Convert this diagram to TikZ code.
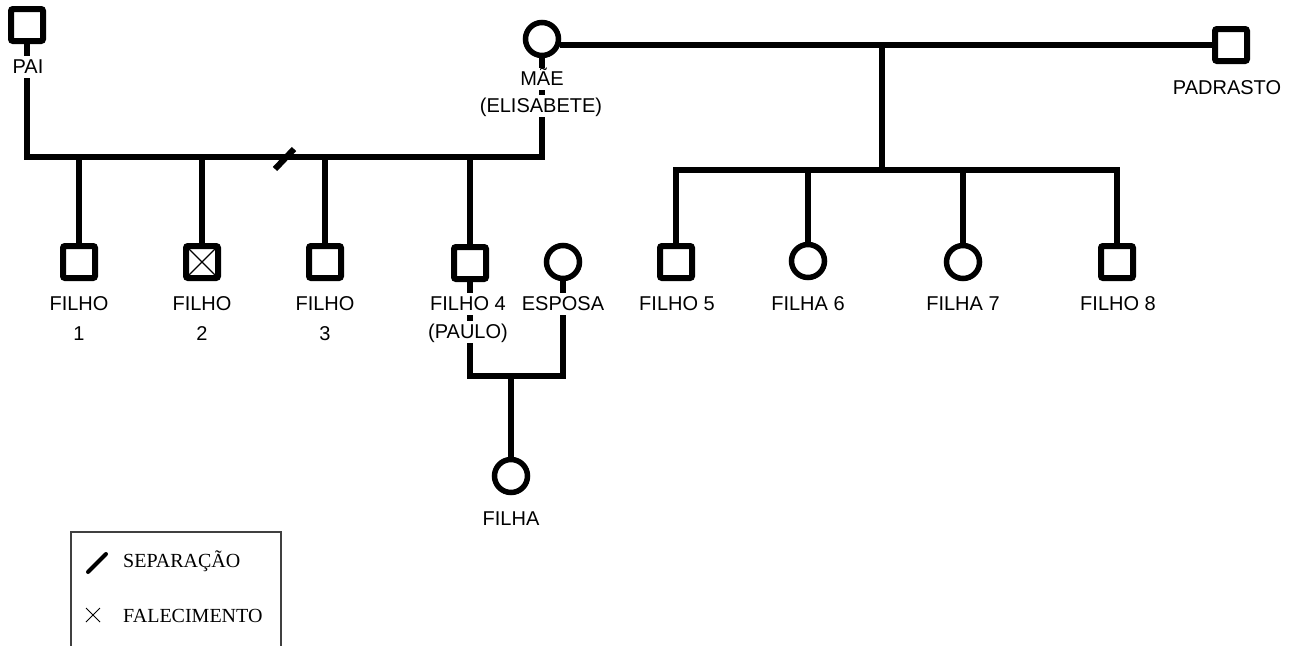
\documentclass[tikz,border=0pt]{standalone}
\usepackage{fontspec}
\setmainfont{Liberation Sans}
\newfontfamily\legfont{Liberation Serif}
\usetikzlibrary{calc}
\begin{document}
\begin{tikzpicture}[x=1pt,y=-1pt,
  ln/.style={line width=6pt},
  male/.style={draw, line width=6pt, rectangle, minimum size=32pt, inner sep=0pt, rounded corners=2pt, fill=white},
  female/.style={draw, line width=5.5pt, circle, minimum size=33pt, inner sep=0pt, fill=white},
  lbl/.style={font=\fontsize{20}{24}\selectfont, fill=white, inner xsep=1pt, inner ysep=2pt, text height=15pt, text depth=3pt, anchor=base},
  leg/.style={font=\legfont\fontsize{20}{24}\selectfont, anchor=base west, inner sep=0pt},
]
\useasboundingbox (0,0) rectangle (1298,645);
\clip (0,0) rectangle (1298,645);

% persons
\node[male] (pai) at (27,25) {};
\node[female] (mae) at (542,39) {};
\node[male] (pad) at (1231,45) {};
\node[male] (f1) at (79,262) {};
\node[male] (f2) at (202,262) {};
\node[male] (f3) at (325,262) {};
\node[male] (f4) at (470,263) {};
\node[female] (esp) at (563,262) {};
\node[male] (f5) at (676,262) {};
\node[female] (f6) at (808,261) {};
\node[female] (f7) at (963,262) {};
\node[male] (f8) at (1117,262) {};
\node[female] (fa) at (511,476) {};

% junction points
\coordinate (pl) at (27,157);
\coordinate (ml) at (542,157);
\coordinate (rt) at (882,45);
\coordinate (rb) at (882,170);
\coordinate (cb) at (511,376);

% connectors
\draw[ln] (pai.south) -- (pl) -- (ml) -- (mae.south);
\draw[ln] (f1.north) -- (f1.north |- pl);
\draw[ln] (f2.north) -- (f2.north |- pl);
\draw[ln] (f3.north) -- (f3.north |- pl);
\draw[ln] (f4.north) -- (f4.north |- pl);
\draw[ln] (mae.-18) -- (mae.-18 -| pad.west);
\draw[ln] (rt) -- (rb);
\draw[ln] (f5.north) -- (f5.north |- rb) -- (f8.north |- rb) -- (f8.north);
\draw[ln] (f6.north) -- (f6.north |- rb);
\draw[ln] (f7.north) -- (f7.north |- rb);
\draw[ln] (f4.south) -- (f4.south |- cb) -- (esp.south |- cb) -- (esp.south);
\draw[ln] (fa.north) -- (fa.north |- cb);

% separation mark
\draw[ln] (275,169) -- (294,149);
% death mark
\draw[line width=1.2pt] ($(f2.center)+(-13,-13)$) -- ($(f2.center)+(13,13)$)
                        ($(f2.center)+(-13,13)$) -- ($(f2.center)+(13,-13)$);

% labels
\node[lbl] (tpai) at (28,73) {PAI};
\node[lbl] (tmae) at (542,85) {MÃE};
\node[lbl] (tmae2) at (541,112) {(ELISABETE)};
\node[lbl] (tpad) at (1227,94) {PADRASTO};
\node[lbl] (tf1) at (79,310) {FILHO};
\node[lbl] (tf1b) at (79,340) {1};
\node[lbl] (tf2) at (202,310) {FILHO};
\node[lbl] (tf2b) at (202,340) {2};
\node[lbl] (tf3) at (325,310) {FILHO};
\node[lbl] (tf3b) at (325,340) {3};
\node[lbl] (tf4) at (468,310) {FILHO 4};
\node[lbl] (tf4b) at (468,338) {(PAULO)};
\node[lbl] (tesp) at (563,310) {ESPOSA};
\node[lbl] (tf5) at (677,310) {FILHO 5};
\node[lbl] (tf6) at (808,310) {FILHA 6};
\node[lbl] (tf7) at (963,310) {FILHA 7};
\node[lbl] (tf8) at (1118,310) {FILHO 8};
\node[lbl] (tfa) at (511,525) {FILHA};

% legend
\draw[line width=1.2pt, black!75] (71,532) rectangle (281,700);
\draw[line width=4pt, line cap=round] (88,572) -- (106,554);
\draw[line width=1pt] (86,608) -- (100,622) (86,622) -- (100,608);
\node[leg] (lsep) at (123,567) {SEPARAÇÃO};
\node[leg] (lfal) at (123,622) {FALECIMENTO};
\end{tikzpicture}
\end{document}
